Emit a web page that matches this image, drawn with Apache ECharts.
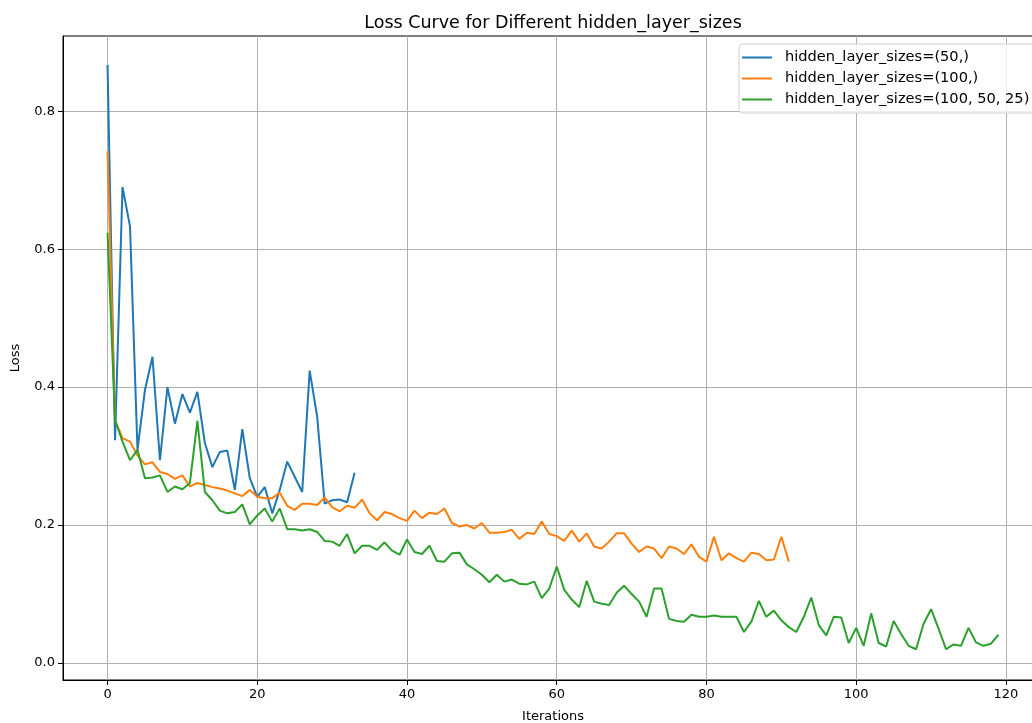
<!DOCTYPE html>
<html>
<head>
<meta charset="utf-8">
<title>Loss Curve</title>
<script src="https://cdn.jsdelivr.net/npm/echarts@6/dist/echarts.min.js"></script>
<style>
    html, body { margin: 0; padding: 0; background: #fff; }
    #chart { width: 1032px; height: 723px; }
</style>
</head>
<body>
<div id="chart"></div>
<script>
// 各网络结构的 loss 值（按迭代次数）
var loss50 = [0.867, 0.323, 0.690, 0.633, 0.309, 0.396, 0.444, 0.294, 0.400, 0.347,
    0.390, 0.363, 0.393, 0.319, 0.284, 0.306, 0.308, 0.251, 0.339, 0.268,
    0.241, 0.255, 0.217, 0.251, 0.292, 0.270, 0.248, 0.424, 0.357, 0.231,
    0.236, 0.237, 0.233, 0.276];
var loss100 = [0.742, 0.352, 0.326, 0.321, 0.301, 0.288, 0.291, 0.277, 0.274, 0.267,
    0.272, 0.256, 0.261, 0.258, 0.255, 0.253, 0.250, 0.246, 0.242, 0.251,
    0.241, 0.239, 0.239, 0.247, 0.228, 0.222, 0.231, 0.231, 0.229, 0.240,
    0.226, 0.220, 0.228, 0.225, 0.237, 0.217, 0.207, 0.219, 0.216, 0.210,
    0.206, 0.221, 0.210, 0.218, 0.216, 0.224, 0.203, 0.198, 0.200, 0.195,
    0.203, 0.189, 0.189, 0.190, 0.193, 0.180, 0.189, 0.187, 0.205, 0.187,
    0.184, 0.177, 0.192, 0.176, 0.188, 0.169, 0.166, 0.176, 0.188, 0.188,
    0.173, 0.161, 0.169, 0.166, 0.152, 0.169, 0.166, 0.158, 0.172, 0.154,
    0.147, 0.183, 0.149, 0.159, 0.152, 0.147, 0.160, 0.158, 0.149, 0.150,
    0.183, 0.147];
var loss100_50_25 = [0.624, 0.352, 0.321, 0.294, 0.309, 0.268, 0.269, 0.272, 0.248, 0.256,
    0.252, 0.261, 0.351, 0.248, 0.236, 0.221, 0.217, 0.219, 0.230, 0.201,
    0.214, 0.224, 0.205, 0.224, 0.194, 0.194, 0.192, 0.194, 0.190, 0.177,
    0.176, 0.170, 0.187, 0.159, 0.170, 0.170, 0.164, 0.175, 0.163, 0.157,
    0.179, 0.161, 0.158, 0.170, 0.148, 0.147, 0.159, 0.160, 0.143, 0.136,
    0.128, 0.117, 0.128, 0.118, 0.121, 0.115, 0.114, 0.118, 0.094, 0.108,
    0.140, 0.106, 0.092, 0.081, 0.119, 0.089, 0.086, 0.084, 0.102, 0.112,
    0.100, 0.089, 0.067, 0.108, 0.108, 0.064, 0.061, 0.060, 0.070, 0.067,
    0.067, 0.069, 0.067, 0.067, 0.067, 0.045, 0.060, 0.090, 0.067, 0.076,
    0.062, 0.052, 0.045, 0.067, 0.095, 0.055, 0.040, 0.067, 0.066, 0.029,
    0.051, 0.025, 0.072, 0.029, 0.024, 0.061, 0.042, 0.025, 0.020, 0.057,
    0.078, 0.050, 0.020, 0.027, 0.025, 0.051, 0.030, 0.025, 0.028, 0.041];

var seriesNames = ['hidden_layer_sizes=(50,)', 'hidden_layer_sizes=(100,)', 'hidden_layer_sizes=(100, 50, 25)'];
var seriesColors = ['#1f77b4', '#ff7f0e', '#2ca02c'];
var xTicks = [0, 20, 40, 60, 80, 100, 120];
var yTicks = [0, 0.2, 0.4, 0.6, 0.8];

var FONT = 'DejaVu Sans';

// 转成 [迭代次数, loss] 点对
function toPoints(arr) {
    let pts = [];
    for (let i = 0; i < arr.length; i++) {
        pts.push([i, arr[i]]);
    }
    return pts;
}

var allLoss = [loss50, loss100, loss100_50_25];
var series = [];
for (let k = 0; k < allLoss.length; k++) {
    series.push({
        name: seriesNames[k],
        type: 'line',
        data: toPoints(allLoss[k]),
        showSymbol: false,
        symbol: 'none',
        lineStyle: { color: seriesColors[k], width: 2 },
        itemStyle: { color: seriesColors[k] },
        z: 3 + k
    });
}

var chart = echarts.init(document.getElementById('chart'));
chart.setOption({
    animation: false,
    title: {
        text: 'Loss Curve for Different hidden_layer_sizes',
        left: 548,
        top: 9,
        textAlign: 'center',
        textStyle: { fontFamily: FONT, fontSize: 17.5, fontWeight: 'normal', color: '#000' }
    },
    legend: {
        orient: 'vertical',
        left: 739,
        top: 44,
        padding: [6, 10, 6, 3],
        itemWidth: 30,
        itemHeight: 2,
        itemGap: 6,
        icon: 'rect',
        backgroundColor: 'rgba(255,255,255,0.8)',
        borderColor: '#d0d0d0',
        borderWidth: 1,
        borderRadius: 4,
        textStyle: { fontFamily: FONT, fontSize: 14.6, color: '#000', padding: [0, 0, 0, 8] },
        data: seriesNames
    },
    // 绘图区右边框在画面外
    grid: {
        left: 63,
        top: 36,
        width: 980,
        height: 644,
        outerBoundsMode: 'none',
        show: true,
        borderColor: '#000',
        borderWidth: 1,
        containLabel: false
    },
    xAxis: {
        type: 'value',
        min: -5.95,
        max: 124.95,
        name: 'Iterations',
        nameLocation: 'middle',
        nameGap: 30,
        nameTextStyle: { fontFamily: FONT, fontSize: 13, color: '#000' },
        axisLine: { show: true, onZero: false, lineStyle: { color: '#000' } },
        axisTick: { show: true, length: 5, customValues: xTicks, lineStyle: { color: '#000' } },
        axisLabel: { customValues: xTicks, fontFamily: FONT, fontSize: 13, color: '#000', margin: 8 },
        splitLine: { show: true, lineStyle: { color: '#b0b0b0', width: 1 } }
    },
    yAxis: {
        type: 'value',
        min: -0.0246,
        max: 0.909,
        name: 'Loss',
        nameLocation: 'middle',
        nameGap: 41,
        nameRotate: 90,
        nameTextStyle: { fontFamily: FONT, fontSize: 13, color: '#000' },
        axisLine: { show: true, onZero: false, lineStyle: { color: '#000' } },
        axisTick: { show: true, length: 5, customValues: yTicks, lineStyle: { color: '#000' } },
        axisLabel: {
            customValues: yTicks,
            fontFamily: FONT, fontSize: 13, color: '#000', margin: 8,
            formatter: function (v) { return v.toFixed(1); }
        },
        splitLine: { show: true, lineStyle: { color: '#b0b0b0', width: 1 } }
    },
    series: series
});
</script>
</body>
</html>
